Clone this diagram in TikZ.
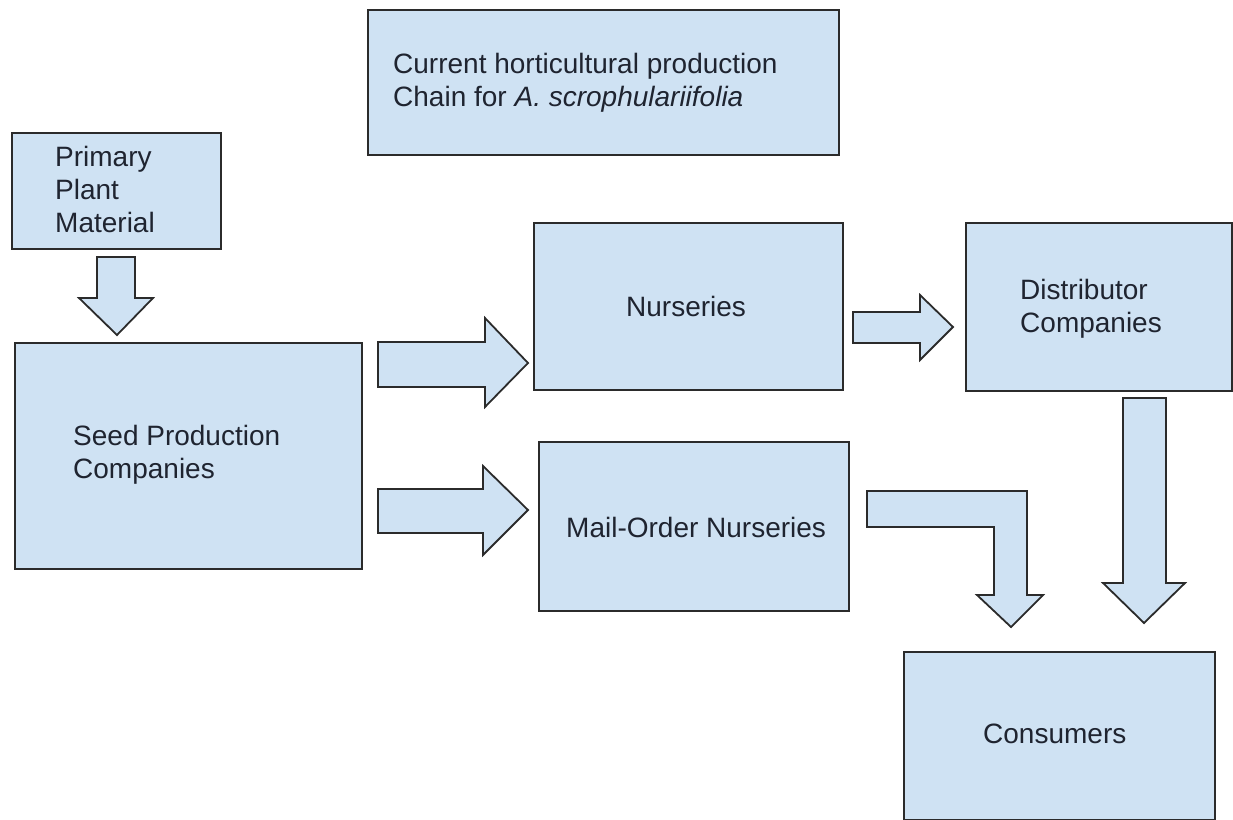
\documentclass[tikz,border=0pt]{standalone}
\usepackage{fontspec}
\setmainfont{Liberation Sans}
\definecolor{boxblue}{HTML}{CFE2F3}
\definecolor{textdark}{HTML}{1F2430}
\definecolor{edge}{HTML}{2B2B2B}
\newcommand\mylines[1]{\begin{tabular}[t]{@{}l@{}}#1\end{tabular}}
\begin{document}
\begin{tikzpicture}[x=1pt,y=-1pt,
  box/.style={draw=edge, line width=1.8pt, fill=boxblue, inner sep=0pt, anchor=north west},
  blockarrow/.style={draw=edge, line width=1.8pt, fill=boxblue, line join=miter},
  lbl/.style={inner sep=0pt, anchor=base west, text=textdark, font=\fontsize{28}{33}\selectfont}]
\useasboundingbox (0,0) rectangle (1233,819);
% boxes
\node[box, minimum width=471pt, minimum height=145pt] (title) at (367,9) {};
\node[box, minimum width=209pt, minimum height=116pt] (primary) at (11,132) {};
\node[box, minimum width=347pt, minimum height=226pt] (seed) at (14,342) {};
\node[box, minimum width=309pt, minimum height=167pt] (nurs) at (533,222) {};
\node[box, minimum width=266pt, minimum height=168pt] (dist) at (965,222) {};
\node[box, minimum width=310pt, minimum height=169pt] (mail) at (538,441) {};
\node[box, minimum width=311pt, minimum height=168pt] (cons) at (903,651) {};
% texts
\node[lbl] (titletext) at (393,73) {\mylines{Current horticultural production\\Chain for \textit{A. scrophulariifolia}}};
\node[lbl] (primarytext) at (55,166) {\mylines{Primary\\Plant\\Material}};
\node[lbl] (seedtext) at (73,445) {\mylines{Seed Production\\Companies}};
\node[lbl] (nurstext) at (626,316) {Nurseries};
\node[lbl] (disttext) at (1020,299) {\mylines{Distributor\\Companies}};
\node[lbl] (mailtext) at (566,537) {Mail-Order Nurseries};
\node[lbl] (constext) at (983,743) {Consumers};
% block arrows
\draw[blockarrow] (97,257) -- (135,257) -- (135,298) -- (153,298) -- (117,335) -- (79,298) -- (97,298) -- cycle;
\draw[blockarrow] (378,342) -- (485,342) -- (485,318) -- (528,363) -- (485,407) -- (485,387) -- (378,387) -- cycle;
\draw[blockarrow] (378,489) -- (483,489) -- (483,466) -- (528,510) -- (483,555) -- (483,533) -- (378,533) -- cycle;
\draw[blockarrow] (853,312) -- (920,312) -- (920,295) -- (953,327) -- (920,360) -- (920,343) -- (853,343) -- cycle;
\draw[blockarrow] (1123,398) -- (1166,398) -- (1166,583) -- (1185,583) -- (1144,623) -- (1103,583) -- (1123,583) -- cycle;
\draw[blockarrow] (867,491) -- (1027,491) -- (1027,595) -- (1043,595) -- (1011,627) -- (977,595) -- (994,595) -- (994,527) -- (867,527) -- cycle;
\end{tikzpicture}
\end{document}
